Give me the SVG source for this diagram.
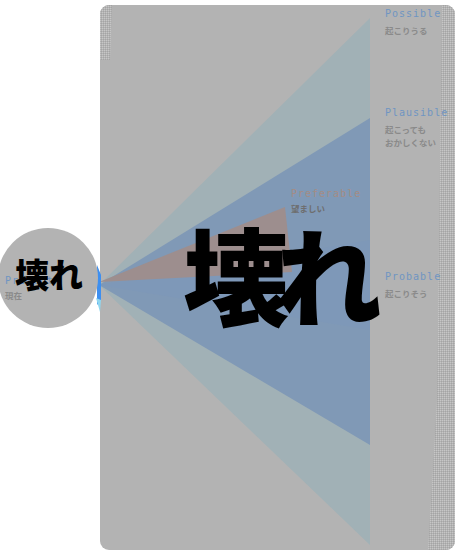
<svg xmlns="http://www.w3.org/2000/svg" width="455" height="556" viewBox="0 0 455 556">
<defs>
<style>
.en{font-family:"DejaVu Sans Mono","Liberation Mono",monospace;font-size:10px;fill:#6f95c2;letter-spacing:1px}
.ja{font-family:"Noto Sans CJK JP","Noto Sans",sans-serif;font-size:8.5px;fill:#8a8a8a;font-weight:bold}
.big{font-family:"Noto Sans CJK JP","Noto Sans",sans-serif;font-weight:900;fill:#000}
</style>
<pattern id="dith" width="2" height="2" patternUnits="userSpaceOnUse">
<rect width="2" height="2" fill="#b3b3b3"/>
<rect width="1" height="1" fill="#c6c6c6"/>
<rect x="1" y="1" width="1" height="1" fill="#a4a4a4"/>
</pattern>
<clipPath id="pc"><rect x="100" y="5" width="355" height="545" rx="9"/></clipPath>
</defs>
<rect width="455" height="556" fill="#fff"/>
<g id="panel">
<rect x="100" y="5" width="355" height="545" rx="9" fill="#b3b3b3"/>
<g clip-path="url(#pc)">
<path d="M442 5 L455 5 L455 550 L428 550 L437 400 Z" fill="url(#dith)"/>
<path d="M100 5 L112 5 L110 60 L100 60 Z" fill="url(#dith)"/>
</g>
</g>
<g id="cones">
<polygon id="possible-cone" points="99,285 370,18 370,545" fill="#a1b1b6"/>
<polygon id="plausible-cone" points="99,285 370,118 370,445" fill="#8099b6"/>
<polygon id="probable-cone" points="99,285 370,240 370,330" fill="#7e98b8"/>
<polygon id="preferable-cone" points="99,282 285,207 292,272" fill="#9d8e8e"/>
<path d="M97 265 L101 275 L101 300 L97 305 Z" fill="#3d8ff0"/>
<path d="M96 298 L101 300 L100 312 Z" fill="#8fd6f0"/>
</g>
<g id="present">
<circle cx="48" cy="278" r="50" fill="#b3b3b3"/>
<text class="en" x="5" y="284">Present</text>
<text class="ja" x="5" y="299">現在</text>
<text class="big" x="15" y="288" font-size="34">壊れ</text>
</g>
<g id="label-possible">
<text class="en" x="385" y="17">Possible</text>
<text class="ja" x="385" y="34">起こりうる</text>
</g>
<g id="label-plausible">
<text class="en" x="385" y="116">Plausible</text>
<text class="ja" x="385" y="133">起こっても</text>
<text class="ja" x="385" y="146">おかしくない</text>
</g>
<g id="label-preferable">
<text class="en" x="291" y="197" style="fill:#a48c84">Preferable</text>
<text class="ja" x="291" y="212" style="fill:#6e6e6e">望ましい</text>
</g>
<g id="label-probable">
<text class="en" x="385" y="280">Probable</text>
<text class="ja" x="385" y="297">起こりそう</text>
</g>
<text class="big" x="183" y="318" font-size="106" letter-spacing="-13">壊れ</text>
</svg>
